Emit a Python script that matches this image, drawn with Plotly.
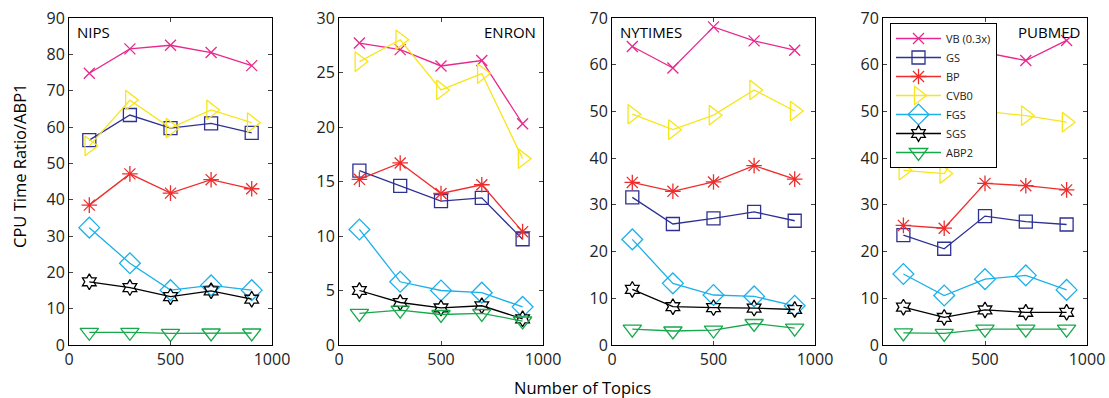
import plotly.graph_objects as go

topics = [100, 300, 500, 700, 900]
datasets = ["NIPS", "ENRON", "NYTIMES", "PUBMED"]
methods = ["VB (0.3x)", "GS", "BP", "CVB0", "FGS", "SGS", "ABP2"]

nips = {
    "VB (0.3x)": [74.8, 81.5, 82.5, 80.5, 76.9],
    "GS": [56.4, 63.3, 59.7, 61.0, 58.4],
    "BP": [38.5, 47.1, 41.8, 45.5, 43.0],
    "CVB0": [54.8, 67.4, 59.7, 64.7, 61.2],
    "FGS": [32.3, 22.5, 15.1, 16.4, 15.1],
    "SGS": [17.4, 15.8, 13.3, 14.9, 12.6],
    "ABP2": [3.5, 3.5, 3.2, 3.3, 3.3],
}
enron = {
    "VB (0.3x)": [27.7, 27.1, 25.6, 26.1, 20.3],
    "GS": [16.0, 14.6, 13.2, 13.5, 9.7],
    "BP": [15.2, 16.7, 13.9, 14.7, 10.4],
    "CVB0": [26.0, 28.0, 23.4, 24.9, 17.1],
    "FGS": [10.6, 5.8, 5.0, 4.8, 3.5],
    "SGS": [5.0, 3.9, 3.4, 3.6, 2.4],
    "ABP2": [2.9, 3.2, 2.8, 2.9, 2.2],
}
nytimes = {
    "VB (0.3x)": [63.9, 59.3, 68.1, 65.1, 63.1],
    "GS": [31.6, 25.9, 27.1, 28.5, 26.6],
    "BP": [34.8, 32.9, 34.9, 38.4, 35.5],
    "CVB0": [49.4, 46.1, 49.2, 54.6, 50.1],
    "FGS": [22.6, 13.2, 10.7, 10.4, 8.4],
    "SGS": [11.9, 8.2, 8.0, 7.9, 7.6],
    "ABP2": [3.4, 3.0, 3.2, 4.6, 3.6],
}
pubmed = {
    "VB (0.3x)": [49.6, 45.2, 62.6, 60.9, 65.2],
    "GS": [23.5, 20.6, 27.6, 26.4, 25.8],
    "BP": [25.6, 25.0, 34.6, 34.1, 33.2],
    "CVB0": [37.4, 36.7, 50.0, 49.1, 47.7],
    "FGS": [15.2, 10.6, 14.1, 14.9, 11.8],
    "SGS": [8.1, 5.9, 7.5, 7.0, 7.0],
    "ABP2": [2.6, 2.5, 3.4, 3.4, 3.4],
}
all_data = [nips, enron, nytimes, pubmed]
y_max = [90, 30, 70, 70]
y_dtick = [10, 5, 10, 10]
label_pos = ["left", "right", "left", "right"]

colors = {
    "VB (0.3x)": "#e8288c",
    "GS": "#2e3192",
    "BP": "#ee2d2d",
    "CVB0": "#f7e61b",
    "FGS": "#1bb0ea",
    "SGS": "#000000",
    "ABP2": "#17a84b",
}
symbols = {
    "VB (0.3x)": ("x-thin-open", 11),
    "GS": ("square-open", 13),
    "BP": ("asterisk-open", 13),
    "CVB0": ("triangle-right-open", 17),
    "FGS": ("diamond-open", 16),
    "SGS": ("hexagram-open", 12),
    "ABP2": ("triangle-down-open", 16),
}

W, H = 1109, 398
x_px = [(69, 272), (339, 543), (612, 815), (883, 1087)]
y_top, y_bot = 18, 345
FONT = "Open Sans"

fig = go.Figure()
for i, d in enumerate(all_data):
    xa = "x" if i == 0 else f"x{i+1}"
    ya = "y" if i == 0 else f"y{i+1}"
    for m in methods:
        sym, sz = symbols[m]
        fig.add_trace(go.Scatter(
            x=topics, y=d[m], mode="lines+markers", name=m,
            xaxis=xa, yaxis=ya, showlegend=(i == 3),
            line=dict(color=colors[m], width=1.3),
            marker=dict(symbol=sym, size=sz, color=colors[m],
                        line=dict(color=colors[m], width=1.3)),
        ))

layout = dict(
    width=W, height=H, autosize=False,
    margin=dict(l=0, r=0, t=0, b=0, pad=0, autoexpand=False),
    paper_bgcolor="white", plot_bgcolor="white",
    font=dict(family=FONT, color="#222222", size=16),
    legend=dict(x=890 / W, y=1 - 23 / H, xanchor="left", yanchor="top",
                bordercolor="black", borderwidth=1, bgcolor="white",
                font=dict(size=11, color="#222222"), tracegroupgap=0, itemwidth=45),
)
annotations = []
for i in range(4):
    sx = "" if i == 0 else str(i + 1)
    x0, x1 = x_px[i]
    layout[f"xaxis{sx}"] = dict(
        domain=[x0 / W, x1 / W], range=[0, 1000], dtick=500, tick0=0,
        anchor=f"y{sx}", showline=True, linecolor="black", linewidth=1,
        mirror="allticks", ticks="inside", ticklen=4, tickcolor="#444",
        showgrid=False, zeroline=False, tickfont=dict(size=16), automargin=False,
    )
    layout[f"yaxis{sx}"] = dict(
        domain=[1 - y_bot / H, 1 - y_top / H], range=[0, y_max[i]],
        dtick=y_dtick[i], tick0=0,
        anchor=f"x{sx}", showline=True, linecolor="black", linewidth=1,
        mirror="allticks", ticks="inside", ticklen=4, tickcolor="#444",
        showgrid=False, zeroline=False, tickfont=dict(size=16), automargin=False,
    )
    if label_pos[i] == "left":
        annotations.append(dict(text=datasets[i], xref=f"x{sx} domain", yref=f"y{sx} domain",
                                x=0.03, y=0.995, xanchor="left", yanchor="top",
                                showarrow=False, font=dict(size=15, color="black")))
    else:
        annotations.append(dict(text=datasets[i], xref=f"x{sx} domain", yref=f"y{sx} domain",
                                x=0.975, y=0.995, xanchor="right", yanchor="top",
                                showarrow=False, font=dict(size=15, color="black")))

annotations.append(dict(text="CPU Time Ratio/ABP1", xref="paper", yref="paper",
                        x=20 / W, y=1 - 166 / H, textangle=-90, showarrow=False,
                        xanchor="center", yanchor="middle", font=dict(size=16.5, color="black")))
annotations.append(dict(text="Number of Topics", xref="paper", yref="paper",
                        x=582 / W, y=1 - 387 / H, showarrow=False,
                        xanchor="center", yanchor="middle", font=dict(size=16.5, color="black")))
layout["annotations"] = annotations
fig.update_layout(**layout)
fig.write_html(
    "out.html",
    config={"displayModeBar": False},
    post_script="document.body.style.margin='0px';document.body.style.padding='0px';document.body.style.overflow='hidden';",
)
